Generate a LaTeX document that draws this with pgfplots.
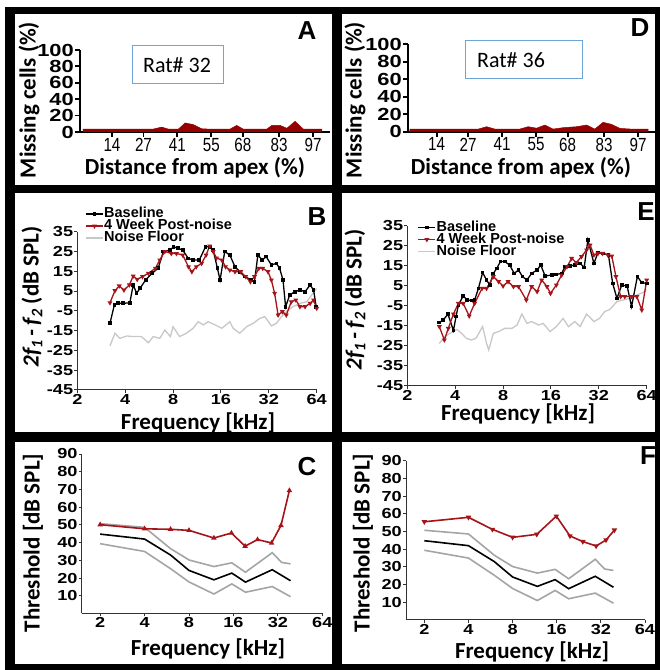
\documentclass[border=0pt]{standalone}
\usepackage{fontspec}
\setmainfont{Carlito}
\newfontfamily\tickfont{Liberation Sans}[FakeStretch=1.25]
\newfontfamily\arial{Liberation Sans}
\newfontfamily\condfont{Liberation Sans}[FakeStretch=0.8]
\usepackage{pgfplots}
\pgfplotsset{compat=1.18}

\definecolor{dkred}{RGB}{165,20,25}
\definecolor{fillred}{RGB}{150,0,0}
\definecolor{nfgray}{RGB}{200,200,200}
\definecolor{sdgray}{RGB}{165,165,165}
\definecolor{boxblue}{RGB}{110,165,215}
\definecolor{axgray}{RGB}{50,50,50}

\pgfplotsset{
  mypanel/.style={
    scale only axis, anchor=south west,
    axis lines=left, axis line style={-, axgray, line width=1pt},
    tick align=outside, tick style={axgray, line width=1pt},
    major tick length=3pt, minor tick num=0,
    /pgf/number format/assume math mode=true,
    ticklabel style={font=\tickfont\bfseries\fontsize{14.5}{14.5}\selectfont, inner sep=1pt},
  },
  mycells/.style={
    mypanel, ymin=0, ymax=100, xmax=104,
    xtick={14,27,41,55,68,83,97}, ytick={0,20,...,100},
    axis line style={-, black, line width=2pt}, tick style={black, line width=1.8pt},
    major tick length=5pt,
    yticklabel style={font=\tickfont\bfseries\fontsize{17.5}{17.5}\selectfont},
    xticklabel style={font=\condfont\fontsize{19}{19}\selectfont},
  },
  mylegend/.style={
    legend cell align=left,
    legend style={anchor=north west, draw=none, fill=none,
      font=\arial\bfseries\fontsize{14.5}{14.5}\selectfont,
      nodes={inner sep=0.5pt, text height=9pt, text depth=1.5pt}, row sep=0.5pt},
  },
}

\begin{document}
\begin{tikzpicture}[x=1pt, y=1pt]
\useasboundingbox (0,0) rectangle (660,670);
\fill[white] (0,0) rectangle (660,670);
% panel frame
\fill[black] (5,656) rectangle (660,663);
\fill[black] (5,0) rectangle (15,663);
\fill[black] (5,0) rectangle (660,6);
\fill[black] (655,0) rectangle (660,663);
\fill[black] (332,0) rectangle (342,663);
\fill[black] (5,477) rectangle (660,485);
\fill[black] (5,228) rectangle (660,238);

% ---------- A ----------
\begin{axis}[mycells, at={(80pt,538pt)}, width=250pt, height=82pt, xmin=0.8]
\addplot[fill=fillred, draw=fillred, line width=0.5pt] coordinates {
(2.1,3.5) (31,3.5) (34.5,6) (37.3,3.5) (41.4,3.5) (44.2,11) (47.6,9) (51,4)
(54,3.5) (62.7,3.5) (65.5,8) (68.2,3.5) (77.9,3.5) (80,8) (83.4,8) (86.2,4.5)
(89.6,13) (93,3.5) (100.6,3.5)} \closedcycle;
\end{axis}

% ---------- D ----------
\begin{axis}[mycells, at={(408pt,538.3pt)}, width=247pt, height=87.4pt, xmin=2.2]
\addplot[fill=fillred, draw=fillred, line width=0.5pt] coordinates {
(3,3) (31.2,3) (34.6,5.7) (38,3) (48.3,3) (51.7,5.7) (55.2,4) (58.6,7.6)
(62,3) (66.2,4.6) (71.7,5.7) (75.8,7.6) (79.2,3) (82.6,10.7) (86.1,8.4)
(89.5,3.8) (94,3) (101.2,3)} \closedcycle;
\end{axis}

% ---------- B ----------
\begin{axis}[mypanel, at={(77.3pt,280pt)}, width=239.4pt, height=158.3pt,
  xmode=log, log basis x=2, xmin=2, xmax=64, ymin=-45, ymax=35,
  xtick={2,4,8,16,32,64}, xticklabels={2,4,8,16,32,64},
  ytick={-45,-35,...,35},
  mylegend, legend style={at={(0.02,1.162)}}]
\addplot[nfgray, line width=1.3pt, forget plot] coordinates {
(3.21,-22.7) (3.45,-16.3) (3.7,-18.9) (4.1,-17.7) (4.49,-18) (5.06,-18) (5.6,-21.1)
(6,-18) (6.6,-18.9) (7.1,-14.7) (7.7,-18) (8,-13) (8.8,-18) (9.7,-16.3) (10.7,-13.8)
(11.5,-10.5) (12.4,-12.1) (13.3,-10.5) (14.7,-12.1) (16.2,-13.8) (18.2,-10.5)
(19.1,-13.8) (21,-16.3) (23.2,-13) (25.5,-11.3) (28.1,-8.8) (30.2,-7.9) (33.2,-12.6)
(35.7,-11.3) (38.5,-7.9) (41.2,-5.4) (45.3,-2.9) (50.2,-1.2) (55.4,-0.4) (59.5,3) (64,6.4)};
\addplot[black, line width=1.3pt, mark=square*, mark size=1.2pt] coordinates {
(3.21,-11.3) (3.42,-2) (3.61,-1.2) (3.89,-1.2) (4.28,-0.9) (4.49,8.1) (4.72,3.9)
(4.96,6.4) (5.38,10.6) (5.9,14) (6.45,16.5) (6.95,25) (7.67,25.7) (8.04,27.4)
(8.63,26.6) (9.2,25.7) (9.98,21.5) (10.7,20.7) (11.7,20.7) (12.8,27.4) (13.6,27.4)
(14.3,25.7) (15.2,16.5) (15.8,10.6) (16.9,25) (18.2,23.2) (19.6,17.3) (21,14.8)
(22.6,12.3) (24.8,10.6) (26,9.7) (27.3,23.2) (29.1,20.7) (30.8,22.4) (33.2,18.2)
(35.7,19) (37.4,16.5) (39.3,10.6) (40.8,-2.9) (43.3,3) (46.6,4.7) (50.2,5.5)
(54.1,4.7) (58.2,8.1) (61.2,5.5) (63.5,-2.9)};
\addlegendentry{Baseline}
\addplot[dkred, line width=1.3pt, mark=triangle*, mark size=1.6pt, mark options={rotate=180}] coordinates {
(3.21,-0.9) (3.45,5.2) (3.67,7.6) (3.93,5.5) (4.25,8.1) (4.49,12.6) (4.76,10.9)
(5.14,12.3) (5.6,14) (6.2,16.5) (6.6,20.7) (7.1,25) (7.8,24) (8.4,24) (9.2,23.2)
(10,17.3) (10.5,14.8) (11.2,17.3) (12.1,19) (12.9,23.2) (13.6,27.8) (14.3,25)
(15,21.7) (16.2,20.7) (17.1,17.3) (18.2,15.6) (19.6,14.8) (21.3,14.8) (22.9,12.3)
(24.5,9.7) (26,12.3) (27.7,16.5) (29.3,16.5) (31.6,14.8) (33.2,10.6) (34.8,3.9)
(36.6,-7.1) (38.9,-5.4) (41.2,-7.1) (44.3,-0.4) (47.3,0.5) (50.2,-2.9) (54.1,-2.9)
(58.2,-1.2) (61.2,0.5) (64,-3.7)};
\addlegendentry{4 Week Post-noise}
\addlegendimage{nfgray, line width=1.3pt}
\addlegendentry{Noise Floor}
\end{axis}

% ---------- E ----------
\begin{axis}[mypanel, at={(407.3pt,284pt)}, width=239.4pt, height=160pt,
  xmode=log, log basis x=2, xmin=2, xmax=64, ymin=-45, ymax=35,
  xtick={2,4,8,16,32,64}, xticklabels={2,4,8,16,32,64},
  ytick={-45,-35,...,35},
  mylegend, legend style={at={(0.03,1.04)}}]
\addplot[nfgray, line width=1.3pt, forget plot] coordinates {
(3.18,-23.7) (3.45,-20.3) (3.7,-18.7) (4.1,-16.7) (4.4,-18.7) (4.7,-21.2) (5.06,-22)
(5.4,-21.2) (5.95,-15.3) (6.3,-23.7) (6.5,-27) (6.95,-18.7) (7.5,-17.8) (8.2,-16.2)
(9.1,-16.2) (9.8,-14.5) (10.5,-9) (11.3,-13.7) (12.1,-12.8) (13.4,-14.5) (14.3,-13.7)
(15.8,-17.8) (17.3,-15.3) (19.1,-11.2) (20.6,-15.3) (22.6,-12.8) (24.4,-15.3)
(26.8,-9) (29.8,-12.8) (32.3,-11.2) (34.8,-7.8) (37.6,-6.7) (41.6,-2.8) (45.3,-2)
(50.2,-1.2) (55.4,0.5) (60.7,1.7) (64,3)};
\addplot[black, line width=1.3pt, mark=square*, mark size=1.2pt] coordinates {
(3.18,-13.3) (3.37,-12) (3.6,-9) (3.9,-17.3) (4.05,-10.3) (4.19,-4.5) (4.49,0)
(4.76,-2) (5.06,-2.3) (5.3,-2) (5.6,3.8) (5.95,11.7) (6.3,8) (6.6,5.5) (6.95,11.3)
(7.3,13.8) (7.7,17.2) (8.2,17.2) (8.8,15.5) (9.4,11.3) (10,13) (10.6,9.7) (11.3,8)
(12.1,11.3) (13.1,13) (13.8,15.5) (14.7,10) (16.2,10.5) (17.3,10.8) (18.7,11.3)
(19.6,14.7) (21,15) (22.6,15.5) (24.4,16.3) (25.9,14.3) (27.3,28) (29.8,16.3)
(31.6,21.7) (34.1,21.3) (36.8,20.5) (39.1,6.3) (41.6,-1.2) (44.6,5.5) (48.2,5)
(51.4,-5.3) (55.9,9.7) (59.6,6.7) (64,6.3)};
\addlegendentry{Baseline}
\addplot[dkred, line width=1.3pt, mark=triangle*, mark size=1.6pt, mark options={rotate=180}] coordinates {
(3.18,-15.3) (3.42,-22) (3.62,-16.2) (3.9,-9) (4.19,-3.7) (4.49,-3.7) (4.9,-10)
(5.3,-3.7) (5.9,3.8) (6.3,3.8) (6.95,9.7) (7.5,7.2) (8,5) (8.6,7.2) (9.3,4.7)
(10,4.7) (11.2,-2) (12.1,4.7) (13.1,2.2) (14,8) (15.1,4.7) (15.9,1.3) (17.3,5.5)
(18.7,10.5) (20.2,14.7) (21.6,18.8) (23.1,16.7) (24.9,19.7) (26.8,23) (28.2,25.5)
(29.8,20.5) (31.6,21.3) (33.8,21.3) (36.5,20.5) (38.6,20) (41,9.7) (43.9,-0.3)
(46.6,-0.3) (51.4,-0.3) (55.5,-0.3) (59.6,-7) (64,8)};
\addlegendentry{4 Week Post-noise}
\addlegendimage{nfgray, line width=1.3pt}
\addlegendentry{Noise Floor}
\end{axis}

% ---------- C ----------
\begin{axis}[mypanel, at={(81.7pt,56.5pt)}, width=240.6pt, height=159.5pt,
  xmode=log, log basis x=2, xmin=1.5, xmax=64, ymin=0, ymax=90,
  xtick={2,4,8,16,32,64}, xticklabels={2,4,8,16,32,64}, ytick={10,20,...,90}]
\addplot[sdgray, line width=1.6pt] coordinates {
(2,50.7) (4,48.6) (6,36.6) (8,30.2) (11.8,26.5) (15.6,28.6) (19.3,23.3) (29.3,34.3) (34,28.8) (39,28)};
\addplot[sdgray, line width=1.6pt] coordinates {
(2,39.4) (4,35) (6,25.3) (8,17.8) (11.8,11) (15.6,16.7) (19.3,12) (29.3,15.2) (39,9.5)};
\addplot[black, line width=1.6pt] coordinates {
(2,44.8) (4,42) (6,33) (8,24.3) (11.8,19) (15.6,22.8) (19.3,17.7) (29.3,24.7) (39,18.5)};
\addplot[dkred, line width=1.6pt, mark=triangle*, mark size=1.6pt] coordinates {
(2,50.1) (4,47.8) (6,47.5) (8,46.9) (11.8,42.6) (15.5,45.4) (19.2,38) (23.3,41.7)
(29,39.8) (33.6,49.7) (38.3,69.4)};
\end{axis}

% ---------- F ----------
\begin{axis}[mypanel, at={(406pt,50pt)}, width=239pt, height=159.3pt,
  xmode=log, log basis x=2, xmin=1.5, xmax=64, ymin=0, ymax=90,
  xtick={2,4,8,16,32,64}, xticklabels={2,4,8,16,32,64}, ytick={10,20,...,90}]
\addplot[sdgray, line width=1.6pt] coordinates {
(2,50.7) (4,48.6) (6,36.6) (8,30.2) (11.8,26.5) (15.6,28.6) (19.3,23.3) (29.3,34.3) (34,28.8) (39,28)};
\addplot[sdgray, line width=1.6pt] coordinates {
(2,39.4) (4,35) (6,25.3) (8,17.8) (11.8,11) (15.6,16.7) (19.3,12) (29.3,15.2) (39,9.5)};
\addplot[black, line width=1.6pt] coordinates {
(2,44.8) (4,42) (6,33) (8,24.3) (11.8,19) (15.6,22.8) (19.3,17.7) (29.3,24.7) (39,18.5)};
\addplot[dkred, line width=1.6pt, mark=triangle*, mark size=1.6pt, mark options={rotate=180}] coordinates {
(2,55.5) (4,58) (5.83,51.2) (8,46.7) (11.7,48.4) (15.9,58.7) (19.7,47.5) (24.1,44.3)
(29.7,41.8) (34.7,45.2) (39.6,50.8)};
\end{axis}

% ---------- labels ----------
\begin{scope}[font=\bfseries\fontsize{23}{23}\selectfont]
\node[rotate=90] at (29,570) {Missing cells (\%)};
\node[rotate=90] at (355,570) {Missing cells (\%)};
\node[anchor=base] at (195,495) {Distance from apex (\%)};
\node[anchor=base] at (521,495) {Distance from apex (\%)};
\node[rotate=90] at (32,373) {{\itshape 2f\textsubscript{1}\,-\,f\textsubscript{2}} (dB SPL)};
\node[rotate=90] at (355,370) {{\itshape 2f\textsubscript{1}\,-\,f\textsubscript{2}} (dB SPL)};
\node[anchor=base] at (198,240) {Frequency [kHz]};
\node[anchor=base] at (518,249) {Frequency [kHz]};
\node[rotate=90] at (33,127) {Threshold [dB SPL]};
\node[rotate=90] at (363,127) {Threshold [dB SPL]};
\node[anchor=base] at (208,14) {Frequency [kHz]};
\node[anchor=base] at (532,12) {Frequency [kHz]};
\end{scope}
\begin{scope}[font=\arial\bfseries\fontsize{26}{26}\selectfont]
\node at (307,639) {A};
\node at (640,642) {D};
\node at (317,453) {B};
\node at (646,458) {E};
\node at (307,203) {C};
\node at (648,214) {F};
\end{scope}
\draw[boxblue, line width=0.8pt] (132,587) rectangle (223,625);
\node[font=\fontsize{22}{22}\selectfont] at (177,605) {Rat\# 32};
\draw[boxblue, line width=0.8pt] (465,592) rectangle (582,630);
\node[font=\fontsize{22}{22}\selectfont] at (511,610) {Rat\# 36};
\end{tikzpicture}
\end{document}
